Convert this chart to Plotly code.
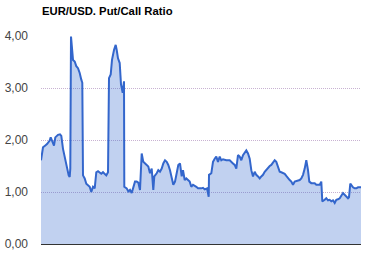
import plotly.graph_objects as go

# sample position (pixel-ish time index) and put/call ratio values
t = [0, 1, 2, 4, 6, 8.7, 9.7, 11, 13, 14.3, 17, 19, 20.3, 22, 23.7, 25.3, 27.7, 28.7, 29.3,
     30, 31.3, 32, 33.7, 35.3, 37, 38.7, 40.3, 41.3, 42, 43.7, 45.3, 47, 48.7, 50.3, 52, 53.7,
     55.3, 57, 58.7, 60.3, 62, 63.7, 65.3, 67, 68, 69.7, 71, 73, 74.7, 75.7, 77, 78.7, 80,
     81.7, 83, 83.3, 85.7, 87.3, 89, 90.7, 92.3, 94, 95.7, 97.3, 99, 100.7, 102.3, 105.7,
     107.3, 109, 110.7, 112.3, 113.3, 115.7, 117.3, 119, 120.7, 122.3, 124, 125.7, 127.3,
     129, 130.7, 132.3, 134, 135.7, 137.3, 139, 140.7, 142, 143.7, 145.3, 148.7, 150.3, 152,
     155.3, 157, 160.3, 162, 163.7, 166, 167.7, 168, 170.3, 172, 173.7, 175.3, 177, 178.7,
     180.3, 182, 185.3, 188.7, 192, 193.7, 195.3, 197, 198.7, 200.3, 202, 203.7, 205.3, 207,
     208.7, 210.3, 212, 213.7, 215.3, 217, 218.7, 220.3, 222, 223.7, 225.3, 227, 228.7, 230.3,
     232, 233.7, 235.3, 237, 238.7, 240.3, 242, 243.7, 245.3, 247, 248.7, 250.3, 252, 253.7,
     255.3, 258.7, 260.3, 262, 263.7, 265.3, 267, 268.3, 270.3, 273.7, 275.3, 278.7, 280.3,
     281.3, 283.7, 285.3, 287, 288.7, 290.3, 292, 293.7, 295.3, 297, 298.7, 302, 303.7, 305.3,
     307, 308, 309.3, 312, 313.7, 315.3, 317, 320]
ratio = [1.61, 1.75, 1.86, 1.89, 1.92, 1.99, 2.05, 1.99, 1.89, 2.05, 2.10, 2.11, 2.08, 1.83,
         1.67, 1.57, 1.32, 1.29, 1.45, 3.99, 3.73, 3.54, 3.51, 3.42, 3.38, 3.29, 3.16, 3.10,
         1.32, 1.26, 1.16, 1.13, 1.10, 1.00, 1.10, 1.07, 1.38, 1.40, 1.38, 1.35, 1.38, 1.35,
         1.32, 1.38, 3.19, 3.26, 3.54, 3.73, 3.83, 3.73, 3.57, 3.48, 3.07, 2.91, 3.13, 1.10,
         1.07, 1.01, 1.04, 0.98, 1.10, 1.20, 1.20, 1.18, 1.04, 1.74, 1.58, 1.52, 1.49, 1.36,
         1.45, 1.04, 1.30, 1.36, 1.42, 1.39, 1.45, 1.55, 1.61, 1.58, 1.52, 1.42, 1.30, 1.14,
         1.20, 1.36, 1.52, 1.55, 1.30, 1.42, 1.23, 1.26, 1.20, 1.10, 1.14, 1.10, 1.07, 1.07,
         1.08, 1.05, 1.07, 0.91, 1.33, 1.36, 1.58, 1.64, 1.68, 1.58, 1.68, 1.61, 1.63, 1.61,
         1.61, 1.55, 1.52, 1.45, 1.71, 1.68, 1.61, 1.71, 1.77, 1.80, 1.74, 1.64, 1.42, 1.30,
         1.39, 1.33, 1.30, 1.26, 1.30, 1.33, 1.39, 1.43, 1.45, 1.50, 1.52, 1.56, 1.61, 1.58,
         1.49, 1.39, 1.38, 1.36, 1.35, 1.31, 1.26, 1.23, 1.20, 1.14, 1.20, 1.21, 1.23, 1.26,
         1.33, 1.45, 1.61, 1.42, 1.20, 1.17, 1.17, 1.14, 1.14, 1.20, 0.82, 0.85, 0.88, 0.84,
         0.85, 0.82, 0.84, 0.79, 0.85, 0.86, 0.88, 0.98, 0.95, 0.91, 0.88, 0.90, 1.16, 1.09,
         1.07, 1.07, 1.09, 1.09]

y_ticks = [0, 1, 2, 3, 4]
y_labels = ["0,00", "1,00", "2,00", "3,00", "4,00"]
title_text = "EUR/USD. Put/Call Ratio"

fig = go.Figure()
fig.add_trace(go.Scatter(
    x=t, y=ratio, mode="lines",
    line=dict(color="#3366cc", width=2),
    fill="tozeroy", fillcolor="rgba(51,102,204,0.30)",
    hoverinfo="skip", showlegend=False,
))

fig.update_layout(
    width=366, height=256,
    margin=dict(l=41, r=5, t=36, b=10),
    paper_bgcolor="white", plot_bgcolor="white",
    font=dict(family="Arial, Liberation Sans, sans-serif", size=12, color="#444444"),
    title=dict(text="<b>" + title_text + "</b>", xref="container", yref="container",
               x=42 / 366, xanchor="left", y=1 - 11 / 256, yanchor="middle",
               font=dict(size=11.3, color="#000000")),
    xaxis=dict(range=[0, 320], showgrid=False, showticklabels=False, zeroline=False,
               showline=False, ticks=""),
    yaxis=dict(range=[0, 4], tickvals=y_ticks, ticktext=y_labels,
               showgrid=True, gridcolor="#c8b2d2", griddash="1px,1px", gridwidth=1,
               zeroline=True, zerolinecolor="#333333", zerolinewidth=1,
               showline=False, ticks="", ticklabelstandoff=12,
               tickfont=dict(size=12, color="#444444")),
)

fig.write_html("out.html")
